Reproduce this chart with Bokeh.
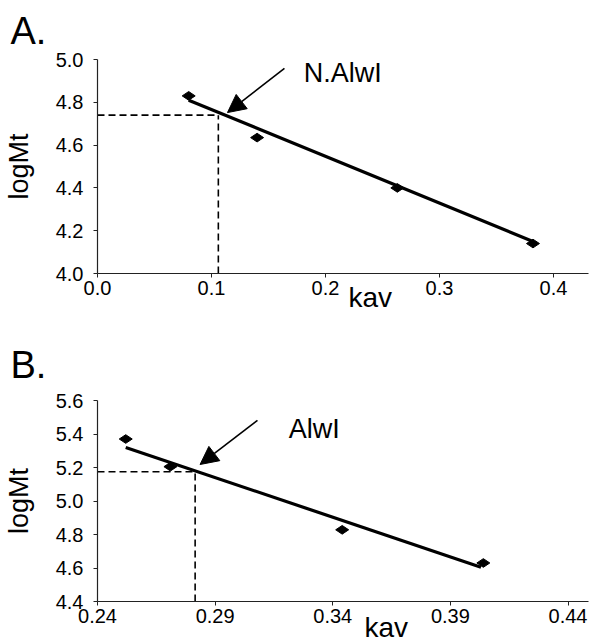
import math
from bokeh.plotting import figure
from bokeh.models import Range1d, FixedTicker, Label, Arrow, NormalHead, PrintfTickFormatter, Title
from bokeh.layouts import column
from bokeh.embed import file_html
from bokeh.resources import INLINE

# ---------------- data: panel A (N.AlwI) ----------------
kav_a = [0.080, 0.140, 0.263, 0.382]
logmt_a = [4.830, 4.635, 4.400, 4.140]
fit_a_x = [0.080, 0.382]
fit_a_y = [4.810, 4.150]
read_a_kav = 0.106
read_a_logmt = 4.740
xticks_a = [0.0, 0.1, 0.2, 0.3, 0.4]
yticks_a = [4.0, 4.2, 4.4, 4.6, 4.8, 5.0]
arrow_a = dict(x_start=0.164, y_start=4.958, x_end=0.114, y_end=4.752)
name_a = "N.AlwI"
name_a_pos = (0.181, 4.935)

# ---------------- data: panel B (AlwI) ----------------
kav_b = [0.252, 0.271, 0.344, 0.404]
logmt_b = [5.370, 5.205, 4.828, 4.630]
fit_b_x = [0.252, 0.403]
fit_b_y = [5.320, 4.605]
read_b_kav = 0.2815
read_b_logmt = 5.175
xticks_b = [0.24, 0.29, 0.34, 0.39, 0.44]
yticks_b = [4.4, 4.6, 4.8, 5.0, 5.2, 5.4, 5.6]
arrow_b = dict(x_start=0.308, y_start=5.481, x_end=0.2836, y_end=5.218)
name_b = "AlwI"
name_b_pos = (0.3213, 5.427)

FONT = "Liberation Sans"


def make_panel(letter, height, b_top, b_bottom, b_right, xr, yr, xt, yt, xfmt,
               kx, ky, fx, fy, rx, ry, arr, name, name_pos,
               kav_offset, kav_standoff, letter_standoff, letter_valign):
    p = figure(width=596, height=height, x_range=Range1d(*xr), y_range=Range1d(*yr),
               output_backend="svg", toolbar_location=None,
               min_border_left=97, min_border_right=b_right,
               min_border_top=b_top, min_border_bottom=b_bottom)
    p.outline_line_color = None
    p.grid.visible = False
    p.background_fill_color = "white"
    p.border_fill_color = "white"

    # panel letter as a left-aligned title pushed to the left edge
    p.title = Title(text=letter, align="left", offset=-87, standoff=letter_standoff,
                    text_font=FONT, text_font_size="38px", text_font_style="normal",
                    text_color="black", vertical_align=letter_valign)

    for ax in (p.xaxis[0], p.yaxis[0]):
        ax.axis_line_color = "#222222"
        ax.axis_line_width = 1.2
        ax.major_tick_line_color = "#222222"
        ax.major_tick_out = 4
        ax.major_tick_in = 0
        ax.minor_tick_line_color = None
        ax.major_label_text_font = FONT
        ax.major_label_text_font_size = "20px"
        ax.major_label_text_color = "black"

    p.xaxis.ticker = FixedTicker(ticks=xt)
    p.yaxis.ticker = FixedTicker(ticks=yt)
    p.xaxis.formatter = PrintfTickFormatter(format=xfmt)
    p.yaxis.formatter = PrintfTickFormatter(format="%.1f")
    p.xaxis.major_label_standoff = 3
    p.yaxis.major_label_standoff = 10

    p.yaxis.axis_label = "logMt"
    p.yaxis.axis_label_text_font = FONT
    p.yaxis.axis_label_text_font_size = "27px"
    p.yaxis.axis_label_text_font_style = "normal"
    p.yaxis.axis_label_text_color = "black"
    p.yaxis.axis_label_standoff = 19

    # x-axis title "kav", set to the right of centre as in the original
    p.add_layout(Title(text="kav", align="left", offset=kav_offset, standoff=kav_standoff,
                       text_font=FONT, text_font_size="28px", text_font_style="normal",
                       text_color="black", vertical_align="top"), "below")

    # dashed read-out lines
    p.line([xr[0], rx], [ry, ry], line_color="black", line_width=1.6, line_dash="7 4")
    p.line([rx, rx], [yr[0], ry], line_color="black", line_width=1.6, line_dash="7 4")

    # regression line
    p.line(fx, fy, line_color="black", line_width=3.2)

    # data points
    p.scatter(kx, ky, marker="diamond", size=13, angle=math.pi / 2,
              fill_color="black", line_color="black")

    # arrow + name
    p.add_layout(Arrow(end=NormalHead(size=18, fill_color="black", line_color="black"),
                       line_color="black", line_width=1.6, **arr))
    p.add_layout(Label(x=name_pos[0], y=name_pos[1], text=name, text_font=FONT,
                       text_font_size="27px", text_color="black",
                       text_baseline="alphabetic"))
    return p


pA = make_panel("A.", 318, 59, 45, 8, (0.0, 0.4307), (4.0, 5.0), xticks_a, yticks_a, "%.1f",
                kav_a, logmt_a, fit_a_x, fit_a_y, read_a_kav, read_a_logmt,
                arrow_a, name_a, name_a_pos, 251, -31, 12, "top")
pB = make_panel("B.", 326, 82, 43, 0, (0.24, 0.4487), (4.4, 5.6), xticks_b, yticks_b, "%.2f",
                kav_b, logmt_b, fit_b_x, fit_b_y, read_b_kav, read_b_logmt,
                arrow_b, name_b, name_b_pos, 267, -28, 30, "bottom")

layout = column(pA, pB, spacing=0)
open("out.html", "w").write(file_html(layout, INLINE))
